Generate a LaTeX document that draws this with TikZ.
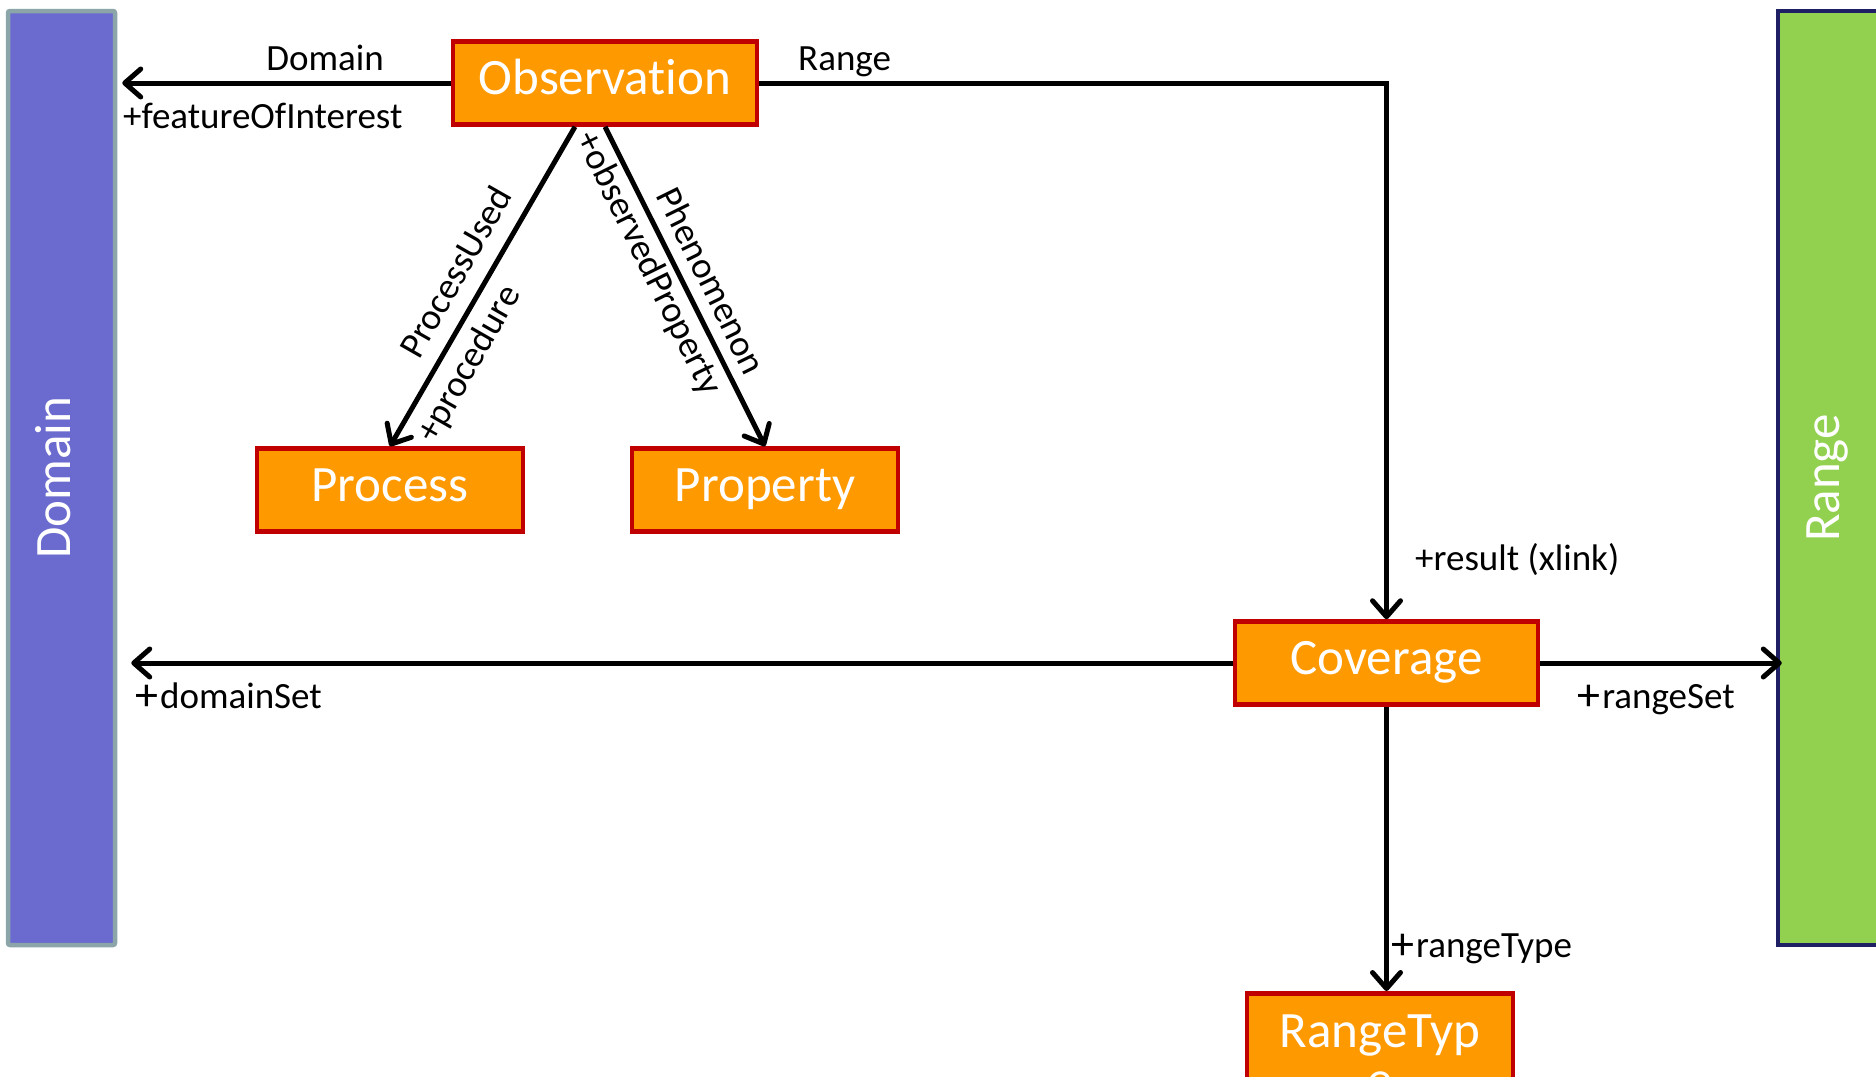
\documentclass[tikz,border=0pt]{standalone}
\usepackage{fontspec}
\setmainfont[Ligatures=NoCommon]{Carlito}
\usetikzlibrary{arrows.meta}
\definecolor{obsOrange}{HTML}{FF9900}
\definecolor{obsRed}{HTML}{C00000}
\definecolor{domainPurple}{HTML}{6B6BCF}
\definecolor{domainEdge}{HTML}{8CA5A8}
\definecolor{rangeGreen}{HTML}{92D050}
\definecolor{rangeEdge}{HTML}{1F1F66}
\newcommand{\bigplus}{\raisebox{-1.5pt}{\fontsize{46}{37}\selectfont+}\hspace{2pt}}

\begin{document}
\begin{tikzpicture}[x=1pt,y=-1pt,
  cls/.style={draw=obsRed, line width=4.5pt, fill=obsOrange, text=white, font=\fontsize{51}{51}\selectfont,
    minimum width=266pt, minimum height=83pt, inner sep=0pt, text height=31.6pt, text depth=7.7pt},
  bar/.style={line width=4.5pt, text=white, font=\fontsize{51}{51}\selectfont, rotate=90,
    minimum width=934pt, inner sep=0pt, text height=25.5pt, text depth=7.1pt},
  lbl/.style={font=\fontsize{37}{37}\selectfont, inner sep=0pt, text height=23.7pt, text depth=0pt},
  assoc/.style={line width=5pt, -{Straight Barb[length=16pt,width=28pt,round]}}]
  \useasboundingbox (0,0) rectangle (1876,1076);
  \clip (0,0) rectangle (1876,1076);

  \node[bar, draw=domainEdge, fill=domainPurple, minimum height=107pt, rounded corners=2pt] (dom) at (61.5,478) {Domain};
  \node[bar, draw=rangeEdge, fill=rangeGreen, minimum height=104pt] (rng) at (1830,478) {Range};

  \node[cls, minimum width=304pt] (obs) at (605,83) {Observation};
  \node[cls] (proc) at (390,490) {Process};
  \node[cls] (prop) at (765,490) {Property};
  \node[cls, minimum width=303pt] (cov) at (1386.5,663) {Coverage};
  \node[cls, minimum height=130pt, anchor=north, text depth=53.6pt] (rtype) at (1380,991) {RangeTyp};
  \node[text=white, font=\fontsize{51}{51}\selectfont, inner sep=0pt, anchor=base] (rtwrap) at (1380,1096) {e};

  \draw[assoc] (obs.west) -- ([xshift=5pt]dom.south |- obs.west);
  \draw[assoc] (obs.east) -| (cov.north);
  \draw[assoc] ([xshift=-30pt]obs.south) -- (proc.north);
  \draw[assoc] (obs.south) -- (prop.north);
  \draw[assoc] (cov.west) -- ([xshift=14pt]dom.south |- cov.west);
  \draw[assoc] (cov.east) -- ([xshift=6pt]rng.north |- cov.east);
  \draw[assoc] (cov.south) -- (cov.south |- rtype.north);

  \node[lbl] (lblDom) at (325,59) {Domain};
  \node[lbl, anchor=west] (lblFoi) at (123,117) {+featureOfInterest};
  \node[lbl, anchor=west] (lblRng) at (798,59) {Range};
  \node[lbl, rotate=60.3] (lblPused) at (456,272) {ProcessUsed};
  \node[lbl, rotate=60.3] (lblProc) at (468,363) {+procedure};
  \node[lbl, rotate=-63.75] (lblObsProp) at (650,263) {+observedProperty};
  \node[lbl, rotate=-63.75] (lblPhen) at (711,281) {Phenomenon};
  \node[lbl, anchor=west] (lblRes) at (1415,559) {+result (xlink)};
  \node[lbl, anchor=west] (lblDset) at (135,697) {\bigplus domainSet};
  \node[lbl] (lblRset) at (1656,697) {\bigplus rangeSet};
  \node[lbl, anchor=west] (lblRtype) at (1391,946) {\bigplus rangeType};
\end{tikzpicture}
\end{document}
